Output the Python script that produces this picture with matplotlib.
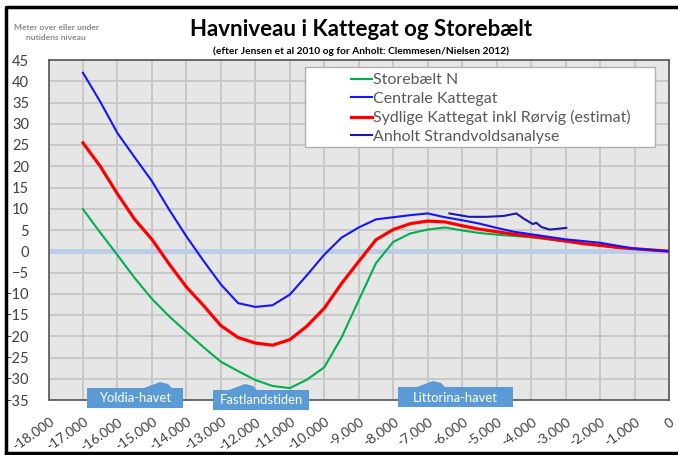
import numpy as np
from matplotlib import pyplot as plt
from matplotlib import transforms
from matplotlib.patches import Polygon, Rectangle
from matplotlib.lines import Line2D

plt.rcParams['font.family'] = ['Lato', 'DejaVu Sans']

# years before present, m relative to present sea level
yrs = [-17000, -16500, -16000, -15500, -15000, -14500, -14000, -13500, -13000,
       -12500, -12000, -11500, -11000, -10500, -10000, -9500, -9000, -8500,
       -8000, -7500, -7000, -6500, -6000, -5500, -5000, -4500, -4000, -3500,
       -3000, -2500, -2000, -1500, -1000, -500, 0]
storebaelt = [9.9, 4.4, -0.9, -6.3, -11.2, -15.3, -19.0, -22.6, -26.0,
              -28.2, -30.3, -31.7, -32.2, -30.2, -27.3, -20.3, -11.5, -2.8,
              2.2, 4.2, 5.1, 5.6, 4.9, 4.3, 3.9, 3.6, 3.3, 2.8,
              2.3, 1.8, 1.3, 0.9, 0.6, 0.3, 0.0]
centrale = [42.0, 35.2, 27.8, 22.1, 16.5, 9.8, 3.5, -2.3, -7.8,
            -12.2, -13.1, -12.7, -10.2, -5.6, -0.8, 3.2, 5.6, 7.5,
            8.0, 8.5, 8.9, 8.0, 7.3, 6.5, 5.5, 4.6, 4.0, 3.4,
            2.8, 2.4, 2.0, 1.3, 0.6, 0.3, 0.0]
sydlige = [25.5, 20.0, 13.5, 7.5, 2.8, -3.0, -8.4, -12.8, -17.5,
           -20.3, -21.6, -22.1, -20.8, -17.6, -13.4, -7.6, -2.4, 2.7,
           5.1, 6.5, 7.1, 6.9, 6.0, 5.2, 4.6, 4.0, 3.5, 3.0,
           2.4, 1.8, 1.4, 0.9, 0.6, 0.3, 0.0]
anholt_yrs = [-6370, -5800, -5300, -4800, -4430, -4200, -3950, -3850, -3700,
              -3460, -3200, -2980]
anholt = [8.9, 8.1, 8.1, 8.3, 8.9, 7.6, 6.4, 6.7, 5.7, 5.1, 5.3, 5.5]

labels = ['Storebælt N', 'Centrale Kattegat',
          'Sydlige Kattegat inkl Rørvig (estimat)', 'Anholt Strandvoldsanalyse']
periods = ['Yoldia-havet', 'Fastlandstiden', 'Littorina-havet']
xticks = list(range(-18000, 1, 1000))
yticks = list(range(-35, 46, 5))

W, H = 678, 455
fig = plt.figure(figsize=(W / 100, H / 100), dpi=100)
ax = fig.add_axes([48.5 / W, 1 - 400 / H, (669 - 48.5) / W, 340 / H])
ax.set_facecolor('#e6e6e6')

ax.axhline(0, color='#b9cde5', lw=3.5, zorder=1)
l1, = ax.plot(yrs, storebaelt, color='#00b050', lw=1.5, zorder=3)
l2, = ax.plot(yrs, centrale, color='#1414ff', lw=1.5, zorder=4)
l3, = ax.plot(yrs, sydlige, color='#ff0000', lw=2.3, zorder=3)
l4, = ax.plot(anholt_yrs, anholt, color='#1a1aa6', lw=1.5, zorder=4)

ax.set_xlim(-18000, 0)
ax.set_ylim(-35, 45)
ax.set_xticks(xticks)
ax.set_xticklabels(['{:,}'.format(v).replace(',', '.') for v in xticks],
                   rotation=35, ha='right', va='center', rotation_mode='anchor')
ax.set_yticks(yticks)
ax.grid(color='#c8c8c8', lw=1.4, zorder=0)
ax.set_axisbelow(True)
ax.tick_params(axis='both', length=0, colors='#404040')
ax.tick_params(axis='y', pad=14, labelsize=10.5)
ax.tick_params(axis='x', pad=15, labelsize=9.8)
shift = transforms.ScaledTranslation(4 / 100, 0, fig.dpi_scale_trans)
for lab in ax.get_xticklabels():
    lab.set_transform(lab.get_transform() + shift)
for s in ax.spines.values():
    s.set_color('#606060')
    s.set_linewidth(1.3)

# legend with its own frame
fig.patches.append(Rectangle((305 / W, 1 - 147 / H), 350 / W, 80 / H,
                             transform=fig.transFigure, facecolor='white',
                             edgecolor='#b0b0b0', lw=1, zorder=5))
leg = fig.legend([l1, l2, l3, l4], labels, loc='upper left',
                 bbox_to_anchor=(343 / W, 1 - 65 / H), frameon=False,
                 fontsize=11.5, handlelength=1.3, handletextpad=0.05,
                 labelspacing=0.28, borderpad=0)
leg.set_zorder(6)
for t in leg.get_texts():
    t.set_color('#595959')

# period callouts (figure pixels: box left, right, top, bottom, tip x)
boxes = [(87, 183, 388, 408, 160), (213, 309, 390, 410, 245), (398, 513, 387, 407, 433)]
for name, (x0, x1, y0, y1, tx) in zip(periods, boxes):
    pts = [(x0, y0), (tx - 16, y0), (tx, y0 - 6), (tx + 8, y0 - 4), (tx + 12, y0),
           (x1, y0), (x1, y1), (x0, y1)]
    pts = [(px / W, 1 - py / H) for px, py in pts]
    fig.patches.append(Polygon(pts, closed=True, transform=fig.transFigure,
                               facecolor='#5b9bd5', edgecolor='none', zorder=7))
    fig.text((x0 + x1) / 2 / W, 1 - (y0 + y1 + 1) / 2 / H, name, color='white',
             fontsize=9.4, ha='center', va='center', zorder=8)

fig.text(361 / W, 1 - 30 / H, 'Havniveau i Kattegat og Storebælt',
         fontsize=16, fontweight='bold', ha='center', va='center')
fig.text(361 / W, 1 - 51 / H,
         '(efter Jensen et al 2010 og for Anholt: Clemmesen/Nielsen 2012)',
         fontsize=7.3, fontweight='bold', ha='center', va='center')
fig.text(56 / W, 1 - 32 / H, 'Meter over eller under\nnutidens niveau',
         fontsize=6.1, fontweight='bold', color='#8a8a8a', ha='center',
         va='center', linespacing=1.5)

# outer frame
fig.add_artist(Line2D([6 / W, 6 / W, 1], [1 - 453 / H, 1 - 7 / H, 1 - 7 / H],
                      transform=fig.transFigure, color='black', lw=2.5))
fig.add_artist(Line2D([6 / W, 1], [1 - 453 / H, 1 - 453 / H],
                      transform=fig.transFigure, color='black', lw=2.5))

fig.savefig('out.png', dpi=100)
